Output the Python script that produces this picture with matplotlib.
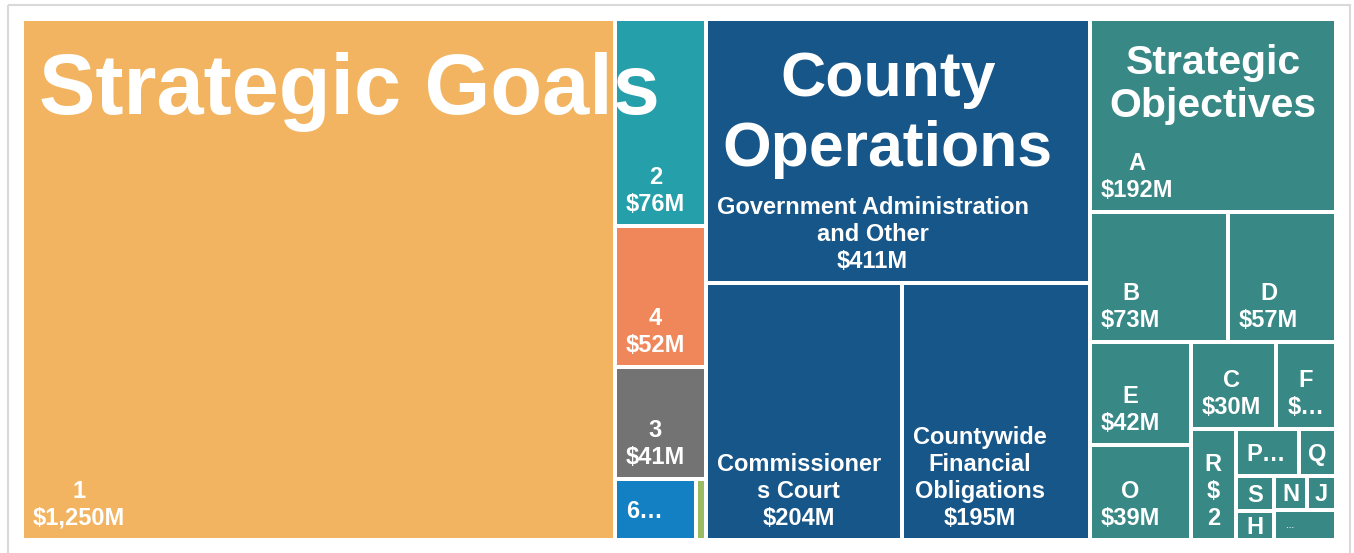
import matplotlib.pyplot as plt
from matplotlib.patches import Rectangle

W, H = 1354, 553
DPI = 100

# ---- data ----
group_names = ["Strategic Goals", "County Operations", "Strategic Objectives"]
group_titles = ["Strategic Goals", "County\nOperations", "Strategic\nObjectives"]

goal_names = ["1", "2", "4", "3", "6", "5"]
goal_values = [1250, 76, 52, 41, 20, 2.5]
goal_labels = ["1\n$1,250M", "2\n$76M", "4\n$52M", "3\n$41M", "6…", ""]
goal_colors = ["#F2B460", "#259FA9", "#EF875A", "#737373", "#1380C4", "#9BBB62"]

ops_names = ["Government Administration and Other", "Commissioners Court",
             "Countywide Financial Obligations"]
ops_values = [411, 204, 195]
ops_labels = ["Government Administration\nand Other\n$411M",
              "Commissioner\ns Court\n$204M",
              "Countywide\nFinancial\nObligations\n$195M"]
ops_color = "#175689"

obj_names = ["A", "B", "D", "E", "O", "C", "F", "R", "P", "Q", "S", "H", "N", "J", "Other"]
obj_values = [192, 73, 57, 42, 39, 30, 21, 20, 12, 7, 5.5, 4.5, 4.5, 4, 7.5]
obj_labels = ["A\n$192M", "B\n$73M", "D\n$57M", "E\n$42M", "O\n$39M", "C\n$30M",
              "F\n$…", "R\n$\n2", "P…", "Q", "S", "H", "N", "J", "…"]
obj_color = "#388886"

# ---- how the tiles are nested ('h' = side by side, 'v' = stacked) ----
goal_tree = ("h", ["1", ("v", ["2", "4", "3", ("h", ["6", "5"])])])
ops_tree = ("v", [ops_names[0], ("h", [ops_names[1], ops_names[2]])])
obj_tree = ("v", ["A", ("h", ["B", "D"]),
                  ("h", [("v", ["E", "O"]),
                         ("v", [("h", ["C", "F"]),
                                ("h", ["R", ("v", [("h", ["P", "Q"]),
                                                   ("h", [("v", ["S", "H"]),
                                                          ("v", [("h", ["N", "J"]), "Other"])])])])])])])


def total(node, vals):
    if isinstance(node, str):
        return vals[node]
    return sum(total(k, vals) for k in node[1])


def layout(node, x0, y0, x1, y1, vals, out):
    if isinstance(node, str):
        out[node] = (x0, y0, x1, y1)
        return
    direction, kids = node
    sizes = [total(k, vals) for k in kids]
    s = sum(sizes)
    pos = x0 if direction == "h" else y0
    for k, v in zip(kids, sizes):
        if direction == "h":
            step = (x1 - x0) * v / s
            layout(k, pos, y0, pos + step, y1, vals, out)
        else:
            step = (y1 - y0) * v / s
            layout(k, x0, pos, x1, pos + step, vals, out)
        pos += step


def draw_label(ax, rect, patch, text, fs=17):
    x0, y0, x1, y1 = rect
    em = fs * DPI / 72
    if x1 - x0 < 45:
        x, ha = (x0 + x1) / 2, "center"
    else:
        x, ha = x0 + 9, "left"
    if y1 - y0 < 60:
        base = (y0 + y1) / 2 + 0.36 * em
    else:
        base = y1 - 13
    t = ax.text(x, base + 0.21 * em, text, ha=ha, va="bottom", multialignment="center",
                color="white", fontsize=fs, fontweight="bold",
                family=["Liberation Sans", "DejaVu Sans"], linespacing=1.22, zorder=3)
    t.set_clip_path(patch)


fig = plt.figure(figsize=(W / DPI, H / DPI), dpi=DPI)
ax = fig.add_axes([0, 0, 1, 1])
ax.set_xlim(0, W)
ax.set_ylim(H, 0)
ax.axis("off")

# outer frame
ax.add_patch(Rectangle((7.5, 4.5), 1342, 600, fill=False, ec="#D9D9D9", lw=1.5))

group_vals = {
    group_names[0]: sum(goal_values),
    group_names[1]: sum(ops_values),
    group_names[2]: sum(obj_values),
}
group_rects = {}
layout(("h", group_names), 22, 19, 1336, 540, group_vals, group_rects)

groups = [
    (goal_tree, goal_names, goal_values, goal_labels, goal_colors),
    (ops_tree, ops_names, ops_values, ops_labels, [ops_color] * len(ops_names)),
    (obj_tree, obj_names, obj_values, obj_labels, [obj_color] * len(obj_names)),
]

gap = 2
for gname, (tree, names, values, labels, colors) in zip(group_names, groups):
    rects = {}
    layout(tree, *group_rects[gname], dict(zip(names, values)), rects)
    for name, lab, col in zip(names, labels, colors):
        x0, y0, x1, y1 = rects[name]
        inner = (x0 + gap, y0 + gap, x1 - gap, y1 - gap)
        p = Rectangle((inner[0], inner[1]), inner[2] - inner[0], inner[3] - inner[1],
                      fc=col, ec="none", zorder=1)
        ax.add_patch(p)
        if lab:
            fs = 6 if name == "Other" else 17
            draw_label(ax, inner, p, lab, fs)

# group headers
title_sizes = [61, 45, 29.5]
title_tops = [52, 50, 44]
title_spacing = [1.2, 1.24, 1.17]
title_pad = [15, 15, 18]
for gname, title, fs, top, ls, pad in zip(group_names, group_titles, title_sizes,
                                          title_tops, title_spacing, title_pad):
    x0, y0, x1, y1 = group_rects[gname]
    ax.text(x0 + gap + pad, top, title, ha="left", va="top", multialignment="center",
            color="white", fontsize=fs, fontweight="bold",
            family=["Liberation Sans", "DejaVu Sans"], linespacing=ls, zorder=5)

fig.savefig("out.png", dpi=DPI)
